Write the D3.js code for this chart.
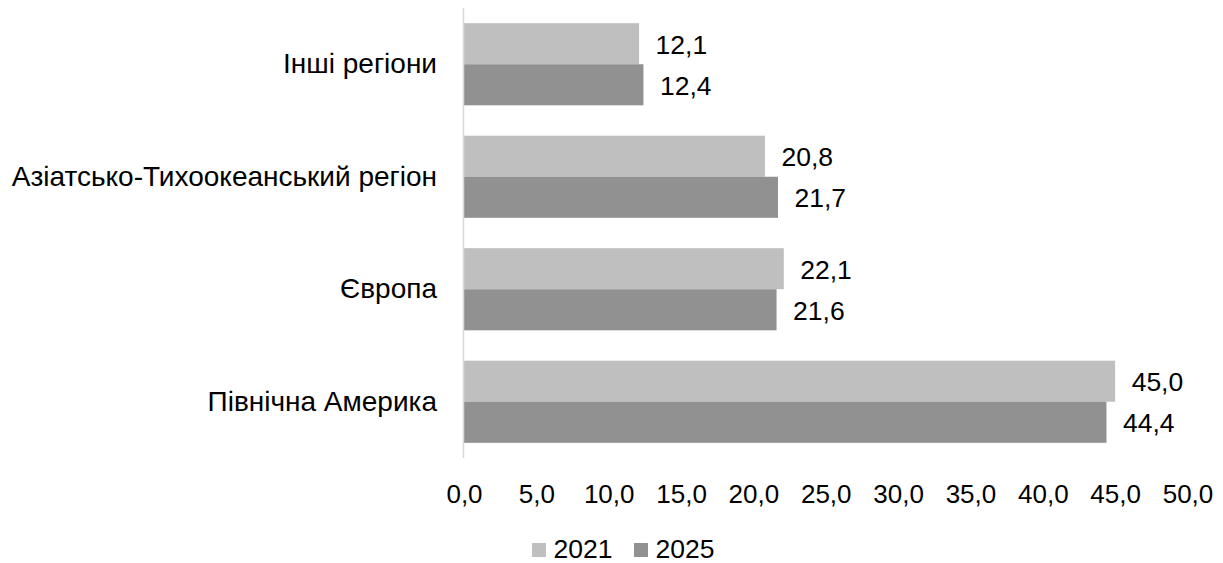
<!DOCTYPE html>
<html><head><meta charset="utf-8">
<script src="https://cdn.jsdelivr.net/npm/d3@7"></script>
<style>body{margin:0;background:#fff}svg{display:block;font-family:"Liberation Sans",Arial,sans-serif}</style>
</head><body><svg id="c" width="1223" height="563"></svg>
<script>
const categories = ["Інші регіони","Азіатсько-Тихоокеанський регіон","Європа","Північна Америка"];
const series = ["2021","2025"];
const values2021 = [12.1, 20.8, 22.1, 45.0];
const values2025 = [12.4, 21.7, 21.6, 44.4];
const tickValues = [0,5,10,15,20,25,30,35,40,45,50];
const colors = ["#bfbfbf","#919191"];

const FONT = "Liberation Sans, Arial, sans-serif";
const svg = d3.select("#c");
const x = d3.scaleLinear().domain([0,50]).range([464,1187.5]);
const y = d3.scaleBand().domain(categories).range([8,458]).paddingInner(0.27).paddingOuter(0.135);
const y1 = d3.scaleBand().domain(series).range([0,y.bandwidth()]);
const fmt = v => v.toFixed(1).replace(".", ",");

const data = categories.map((c,i)=>({c, vals:[values2021[i], values2025[i]]}));

const g = svg.append("g");
data.forEach(d=>{
  d.vals.forEach((v,j)=>{
    const yy = y(d.c)+y1(series[j]);
    g.append("rect").attr("x",x(0)).attr("y",yy).attr("width",x(v)-x(0)).attr("height",y1.bandwidth()).attr("fill",colors[j]);
    g.append("text").attr("x",x(v)+16.5).attr("y",yy+y1.bandwidth()/2).attr("dy","0.38em")
      .attr("font-size",26.5).attr("fill","#000").text(fmt(v));
  });
  svg.append("text").attr("x",437).attr("y",y(d.c)+y.bandwidth()/2).attr("dy","0.33em")
    .attr("text-anchor","end").attr("font-size",28).text(d.c);
});

svg.append("line").attr("x1",463.5).attr("x2",463.5).attr("y1",8).attr("y2",458).attr("stroke","#d9d9d9").attr("stroke-width",1.5);

const ax = svg.append("g").attr("transform","translate(0,458)")
  .call(d3.axisBottom(x).tickValues(tickValues).tickFormat(fmt).tickSize(0).tickPadding(26.5));
ax.select(".domain").remove();
ax.selectAll("text").attr("font-size",26).attr("fill","#000").attr("font-family",FONT);

const leg = svg.append("g");
const legItems = [{s:"2021",x:532},{s:"2025",x:634}];
legItems.forEach((l,i)=>{
  leg.append("rect").attr("x",l.x).attr("y",543).attr("width",14).attr("height",14).attr("fill",colors[i]);
  leg.append("text").attr("x",l.x+21.5).attr("y",558).attr("font-size",26.5).text(l.s);
});
</script></body></html>
